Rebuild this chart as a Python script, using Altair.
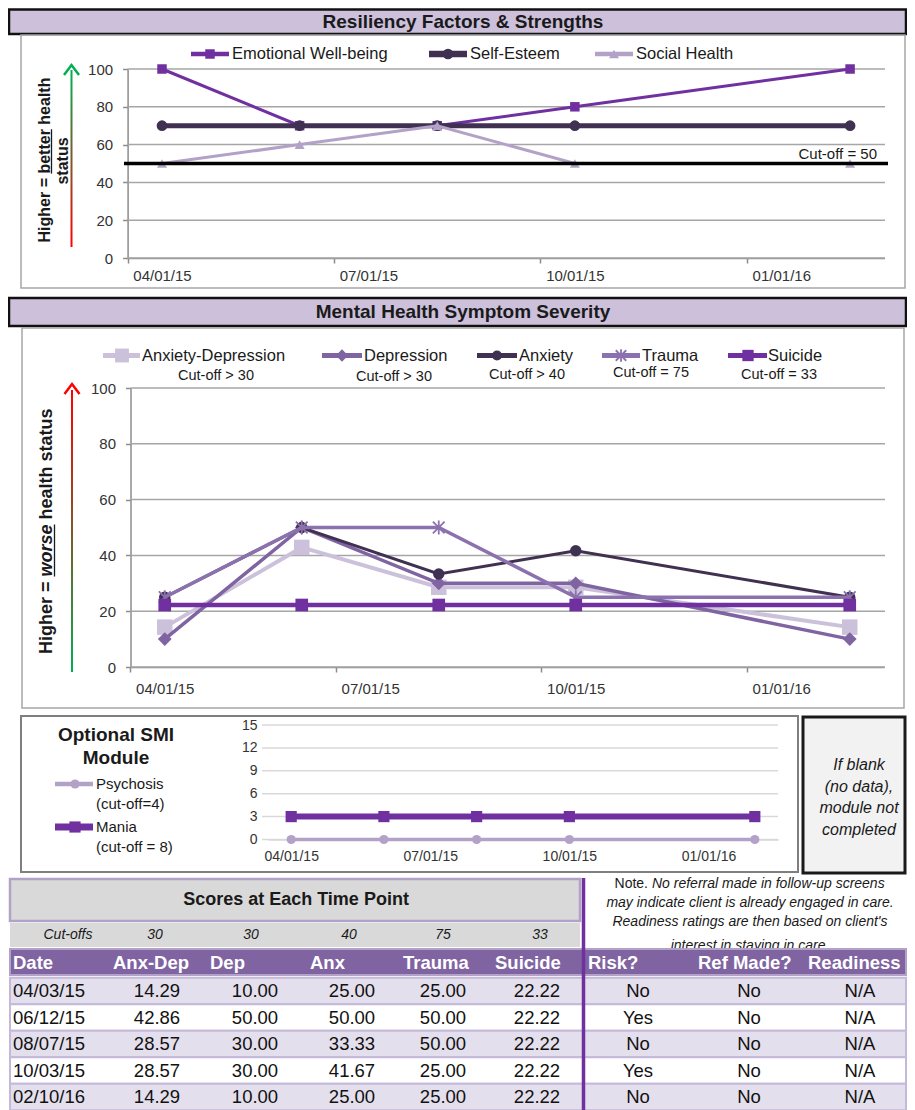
import altair as alt
import pandas as pd

# ---------------- data ----------------
dates = ["04/03/15", "06/12/15", "08/07/15", "10/03/15", "02/10/16"]

res_names = ["Emotional Well-being", "Self-Esteem", "Social Health"]
emotional_wellbeing = [100, 70, 70, 80, 100]
self_esteem = [70, 70, 70, 70, 70]
social_health = [50, 60, 70, 50, 50]
res_cutoff = [50]
res_cutoff_label = "Cut-off = 50"
res_ticks = [0, 20, 40, 60, 80, 100]

mh_names = ["Anxiety-Depression", "Depression", "Anxiety", "Trauma", "Suicide"]
mh_cutoff_text = ["Cut-off > 30", "Cut-off > 30", "Cut-off > 40", "Cut-off = 75", "Cut-off = 33"]
anx_dep = [14.29, 42.86, 28.57, 28.57, 14.29]
depression = [10.00, 50.00, 30.00, 30.00, 10.00]
anxiety = [25.00, 50.00, 33.33, 41.67, 25.00]
trauma = [25.00, 50.00, 50.00, 25.00, 25.00]
suicide = [22.22, 22.22, 22.22, 22.22, 22.22]
mh_ticks = [0, 20, 40, 60, 80, 100]

smi_names = ["Psychosis", "Mania"]
smi_cutoff_text = ["(cut-off=4)", "(cut-off = 8)"]
psychosis = [0, 0, 0, 0, 0]
mania = [3, 3, 3, 3, 3]
smi_ticks = [0, 3, 6, 9, 12, 15]

x_tick_months = [0, 3, 6, 9]   # labelled months (04/01/15, 07/01/15, 10/01/15, 01/01/16)

table_headers = ["Date", "Anx-Dep", "Dep", "Anx", "Trauma", "Suicide", "Risk?", "Ref Made?", "Readiness"]
table_cutoffs = ["30", "30", "40", "75", "33"]
risk = ["No", "Yes", "No", "Yes", "No"]
ref_made = ["No", "No", "No", "No", "No"]
readiness = ["N/A", "N/A", "N/A", "N/A", "N/A"]

note_first = ["Note.", "No referral made in follow-up screens"]
note_lines = ["may indicate client is already engaged in care.",
              "Readiness ratings are then based on client's",
              "interest in staying in care."]

# month index of each screening date (months since April 2015)
_dt = pd.to_datetime(pd.Series(dates), format="%m/%d/%y")
months = list((_dt.dt.year - 2015) * 12 + _dt.dt.month - 4)

# ---------------- layout helpers ----------------
W, H = 899, 1102
FONT = "Liberation Sans"
TXT = "#1a1a1a"


def X(p):
    return p - 8


def Y(p):
    return p - 8


one = pd.DataFrame({"k": [0]})


def rect(x0, y0, x1, y1, **kw):
    return alt.Chart(one).mark_rect(**kw).encode(
        x=alt.value(X(x0)), x2=alt.value(X(x1)), y=alt.value(Y(y0)), y2=alt.value(Y(y1)))


def text(s, x, y, **kw):
    kw.setdefault("font", FONT)
    kw.setdefault("color", TXT)
    kw.setdefault("baseline", "middle")
    return alt.Chart(one).mark_text(**kw).encode(
        x=alt.value(X(x)), y=alt.value(Y(y)), text=alt.value(s))


def hline(x0, x1, y, color, width):
    return alt.Chart(one).mark_rule(color=color, strokeWidth=width).encode(
        x=alt.value(X(x0)), x2=alt.value(X(x1)), y=alt.value(Y(y)))


def vline(x, y0, y1, color, width):
    return alt.Chart(one).mark_rule(color=color, strokeWidth=width).encode(
        x=alt.value(X(x)), y=alt.value(Y(y0)), y2=alt.value(Y(y1)))


def symbol(x, y, st, scale=1.0):
    return alt.Chart(one).mark_point(
        shape=st["shape"], size=st["size"] * scale, filled=st.get("filled", True),
        color=st["color"], opacity=1, strokeWidth=st.get("pw", 1)).encode(
        x=alt.value(X(x)), y=alt.value(Y(y)))


def grid(ticks, ysc, x0, x1, color, width):
    df = pd.DataFrame({"t": ticks})
    return alt.Chart(df).mark_rule(color=color, strokeWidth=width).encode(
        y=alt.Y("t:Q", scale=ysc, axis=None), x=alt.value(X(x0)), x2=alt.value(X(x1)))


def series(values, xsc, ysc, st, xaxis=None, yaxis=None):
    df = pd.DataFrame({"m": months, "v": values})
    pt = alt.OverlayMarkDef(shape=st["shape"], size=st["size"], filled=st.get("filled", True),
                            color=st["color"], opacity=1, strokeWidth=st.get("pw", 1))
    return alt.Chart(df).mark_line(color=st["color"], strokeWidth=st["width"], point=pt).encode(
        x=alt.X("m:Q", scale=xsc, axis=xaxis), y=alt.Y("v:Q", scale=ysc, axis=yaxis))


LABEL_EXPR = "timeFormat(datetime(2015, 3 + datum.value, 1), '%m/%d/%y')"


def xaxis(y_page, hm, fs, pad, ticks=True, dcolor="#8c8c8c"):
    return alt.Axis(orient="bottom", offset=Y(y_page) - H, values=x_tick_months, labelExpr=LABEL_EXPR,
                    tickOffset=-hm, labelOffset=hm, ticks=ticks, tickSize=5, tickWidth=1.5,
                    tickColor=dcolor, domainColor=dcolor, domainWidth=1.5, grid=False,
                    labelFont=FONT, labelFontSize=fs, labelColor="#333333", labelPadding=pad,
                    labelFlush=False, labelOverlap=False, labelBound=False, title=None)


def yaxis(x_page, ticks, fs, pad, domain=True, tick=True, dcolor="#8c8c8c"):
    return alt.Axis(orient="left", offset=-X(x_page), values=ticks, grid=False, domain=domain,
                    ticks=tick, tickSize=5, tickWidth=1.5, tickColor=dcolor, domainColor=dcolor,
                    domainWidth=1.5, labelFont=FONT, labelFontSize=fs, labelColor="#333333",
                    labelPadding=pad, labelOverlap=False, labelBound=False, labelFlush=False, title=None)


def gradient(bottom, top):
    return alt.LinearGradient(gradient="linear", x1=0, x2=0, y1=1, y2=0,
                              stops=[alt.GradientStop(color=bottom, offset=0),
                                     alt.GradientStop(color=top, offset=1)])


ARROW = "M-0.75,1L0,0L0.75,1"
STAR = "M0,-1L0,1M-0.85,-0.85L0.85,0.85M-0.85,0.85L0.85,-0.85"

layers = []

# ================= Panel 1: Resiliency =================
layers.append(rect(9, 9.5, 906, 34, fill="#ccc0da", stroke="#111111", strokeWidth=2.5))
layers.append(text("Resiliency Factors & Strengths", 463, 21.5, fontSize=19, fontWeight="bold", align="center"))
layers.append(rect(21, 35, 905, 288, fillOpacity=0, stroke="#a6a6a6", strokeWidth=1.5))

x1s = alt.Scale(domain=[-0.5, 10.5], range=[X(127.6), X(884.5)], nice=False, zero=False)
y1s = alt.Scale(domain=[0, 100], range=[Y(258), Y(69)], nice=False, zero=False)

layers.append(grid(res_ticks, y1s, 127.6, 885, "#a6a6a6", 1.5))

res_styles = [
    dict(color="#7030a0", width=3, shape="square", size=90),
    dict(color="#403152", width=5, shape="circle", size=115),
    dict(color="#b3a2c7", width=3, shape="triangle-up", size=100),
]
res_values = [emotional_wellbeing, self_esteem, social_health]
for i, (vals, st) in enumerate(zip(res_values, res_styles)):
    if i == 0:
        layers.append(series(vals, x1s, y1s, st, xaxis(258, 34.4, 15, 5), yaxis(127.6, res_ticks, 15, 10)))
    else:
        layers.append(series(vals, x1s, y1s, st))

cut_df = pd.DataFrame({"c": res_cutoff})
layers.append(alt.Chart(cut_df).mark_rule(color="black", strokeWidth=3.5).encode(
    y=alt.Y("c:Q", scale=y1s, axis=None), x=alt.value(X(124)), x2=alt.value(X(888))))
layers.append(alt.Chart(cut_df).mark_text(font=FONT, fontSize=15, align="right", baseline="middle",
                                          color=TXT, dy=-10).encode(
    y=alt.Y("c:Q", scale=y1s, axis=None), x=alt.value(X(877)), text=alt.value(res_cutoff_label)))

res_leg = [(191, 229, 210, 232), (429, 467, 448, 470), (595, 633, 614, 636)]
for name, st, (a, b, m, t) in zip(res_names, res_styles, res_leg):
    layers.append(hline(a, b, 54, st["color"], st["width"] + 1.5))
    layers.append(symbol(m, 54, st))
    layers.append(text(name, t, 54, fontSize=16.5, align="left"))

# y title + arrow
layers.append(rect(70.5, 70, 72.5, 247, fill=gradient("#ff0000", "#00b050")))
layers.append(alt.Chart(one).mark_point(shape=ARROW, size=400, filled=False, color="#00b050",
                                        strokeWidth=2.5, opacity=1).encode(
    x=alt.value(X(71.5)), y=alt.value(Y(65))))
layers.append(text("Higher = better health", 45, 160, fontSize=16, fontWeight="bold", angle=270, align="center"))
layers.append(text("status", 62.5, 161, fontSize=16, fontWeight="bold", angle=270, align="center"))
layers.append(vline(51.5, 173.6, 129.2, TXT, 1.3))

# ================= Panel 2: Mental health =================
layers.append(rect(9, 298, 906, 326, fill="#ccc0da", stroke="#111111", strokeWidth=2.5))
layers.append(text("Mental Health Symptom Severity", 463, 312, fontSize=19, fontWeight="bold", align="center"))
layers.append(rect(22, 328, 904, 708, fillOpacity=0, stroke="#a6a6a6", strokeWidth=1.5))

x2s = alt.Scale(domain=[-0.5, 10.5], range=[X(130.5), X(884)], nice=False, zero=False)
y2s = alt.Scale(domain=[0, 100], range=[Y(667), Y(388)], nice=False, zero=False)

layers.append(grid(mh_ticks, y2s, 130.5, 885, "#a6a6a6", 1.5))

mh_styles = [
    dict(color="#ccc1da", width=4, shape="square", size=240),
    dict(color="#8064a2", width=3.5, shape="diamond", size=190),
    dict(color="#403152", width=3, shape="circle", size=130),
    dict(color="#8b71ad", width=3.5, shape=STAR, size=190, filled=False, pw=1.8),
    dict(color="#7030a0", width=4.5, shape="square", size=160),
]
mh_values = [anx_dep, depression, anxiety, trauma, suicide]
for i, (vals, st) in enumerate(zip(mh_values, mh_styles)):
    if i == 0:
        layers.append(series(vals, x2s, y2s, st, xaxis(667, 34.3, 15, 9), yaxis(130.5, mh_ticks, 15, 10)))
    else:
        layers.append(series(vals, x2s, y2s, st))

mh_leg = [(103, 140, 122, 142, 216, 375.5), (322, 362, 342, 364, 394, 377),
          (477, 517, 497, 519, 527, 374.5), (602, 640, 621, 642, 651, 372.5),
          (728, 767, 748, 768, 779, 374.5)]
for name, sub, st, (a, b, m, t, sx, sy) in zip(mh_names, mh_cutoff_text, mh_styles, mh_leg):
    layers.append(hline(a, b, 355.5, st["color"], 5))
    layers.append(symbol(m, 355.5, st, 0.8))
    layers.append(text(name, t, 355.5, fontSize=16.5, align="left"))
    layers.append(text(sub, sx, sy, fontSize=14.5, align="center"))

layers.append(rect(71, 390, 73, 672, fill=gradient("#00b050", "#ff0000")))
layers.append(alt.Chart(one).mark_point(shape=ARROW, size=400, filled=False, color="#ff0000",
                                        strokeWidth=2.5, opacity=1).encode(
    x=alt.value(X(72)), y=alt.value(Y(384))))
layers.append(text("Higher =", 47, 654, fontSize=18, fontWeight="bold", angle=270, align="left"))
layers.append(text("worse", 47, 576.5, fontSize=18, fontWeight="bold", fontStyle="italic", angle=270, align="left"))
layers.append(text("health status", 47, 519.5, fontSize=18, fontWeight="bold", angle=270, align="left"))
layers.append(vline(54.5, 576.5, 524.5, TXT, 1.3))

# ================= Panel 3: SMI module =================
layers.append(rect(21, 716, 798, 872, fillOpacity=0, stroke="#7f7f7f", strokeWidth=2))
layers.append(rect(803, 717, 905, 873, fill="#f2f2f2", stroke="#1a1a1a", strokeWidth=3))
layers.append(text("If blank\n(no data),\nmodule not\ncompleted", 859, 765, fontSize=16, fontStyle="italic",
                   align="center", lineBreak="\n", lineHeight=21.5))

x3s = alt.Scale(domain=[-0.5, 10.5], range=[X(268), X(778)], nice=False, zero=False)
y3s = alt.Scale(domain=[0, 15], range=[Y(839.5), Y(725)], nice=False, zero=False)

layers.append(grid(smi_ticks, y3s, 262, 778, "#d9d9d9", 1.5))
smi_styles = [
    dict(color="#b3a2c7", width=3.5, shape="circle", size=85),
    dict(color="#7030a0", width=6, shape="square", size=125),
]
smi_values = [psychosis, mania]
for i, (vals, st) in enumerate(zip(smi_values, smi_styles)):
    if i == 0:
        layers.append(series(vals, x3s, y3s, st, xaxis(839.5, 23.2, 14, 10, ticks=False, dcolor="#d9d9d9"),
                             yaxis(262, smi_ticks, 14, 5, domain=False, tick=False)))
    else:
        layers.append(series(vals, x3s, y3s, st))

layers.append(text("Optional SMI\nModule", 116, 735, fontSize=19, fontWeight="bold", align="center",
                   lineBreak="\n", lineHeight=23))
for name, sub, st, yy in zip(smi_names, smi_cutoff_text, smi_styles, [784, 827]):
    layers.append(hline(55, 93, yy, st["color"], st["width"] + 1))
    layers.append(symbol(75, yy, st))
    layers.append(text(name, 96, yy, fontSize=15, align="left"))
    layers.append(text(sub, 96, yy + 20, fontSize=15, align="left"))

# ================= Table =================
layers.append(rect(10, 879, 580, 921, fill="#d9d9d9", stroke="#b3a2c7", strokeWidth=2.5))
layers.append(text("Scores at Each Time Point", 296, 900, fontSize=18, fontWeight="bold", align="center"))
layers.append(rect(10, 923, 580, 947, fill="#d9d9d9"))
cut_x = [155, 251, 349, 443, 540]
layers.append(text("Cut-offs", 68, 934.5, fontSize=14, fontStyle="italic", align="center"))
for v, cx in zip(table_cutoffs, cut_x):
    layers.append(text(v, cx, 934.5, fontSize=14, fontStyle="italic", align="center"))

# note
layers.append(text(note_first[0], 648, 884, fontSize=14, align="right"))
layers.append(text(note_first[1], 652, 884, fontSize=14, fontStyle="italic", align="left"))
for ln, yy in zip(note_lines, [903, 922, 946]):
    layers.append(text(ln, 750, yy, fontSize=14, fontStyle="italic", align="center"))

# row backgrounds
rows = pd.DataFrame({"r": list(range(len(dates)))})
row_scale = alt.Scale(domain=[0, 4], range=[Y(991), Y(1097)], nice=False, zero=False)
layers.append(alt.Chart(rows).transform_calculate(r0="datum.r - 0.5", r1="datum.r + 0.5").mark_rect(
    stroke="#c5b9da", strokeWidth=2).encode(
    y=alt.Y("r0:Q", scale=row_scale, axis=None), y2="r1:Q",
    x=alt.value(X(10)), x2=alt.value(X(906)),
    fill=alt.condition("datum.r % 2 == 0", alt.value("#e4dfec"), alt.value("#ffffff"))))

# header row
layers.append(rect(10, 949, 906, 975, fill="#8064a2", stroke="#b3a2c7", strokeWidth=2))
head_x = [13, 113, 210, 310, 403, 495, 588, 698, 808]
for h, hx in zip(table_headers, head_x):
    layers.append(text(h, hx, 963, fontSize=18.5, fontWeight="bold", align="left", color="#ffffff"))

# cells
cell_cols = [dates, anx_dep, depression, anxiety, trauma, suicide, risk, ref_made, readiness]
cell_x = [13, 157, 255, 352, 443, 537, 638, 749, 860]
for j, (col, cx) in enumerate(zip(cell_cols, cell_x)):
    df = pd.DataFrame({"r": list(range(len(col))), "v": col})
    if j in (1, 2, 3, 4, 5):
        tx = alt.Text("v:Q", format=".2f")
    else:
        tx = alt.Text("v:N")
    layers.append(alt.Chart(df).mark_text(font=FONT, fontSize=18.5, color="#111111",
                                          align="left" if j == 0 else "center", baseline="middle").encode(
        y=alt.Y("r:Q", scale=row_scale, axis=None), x=alt.value(X(cx)), text=tx))

layers.append(vline(583.5, 878, 1110, "#7030a0", 3.5))

chart = alt.layer(*layers).resolve_scale(x="independent", y="independent").properties(
    width=W, height=H, autosize=alt.AutoSizeParams(type="none"), padding=0
).configure_view(strokeWidth=0)

chart.save("out.html", embed_options={"renderer": "svg", "actions": False})
